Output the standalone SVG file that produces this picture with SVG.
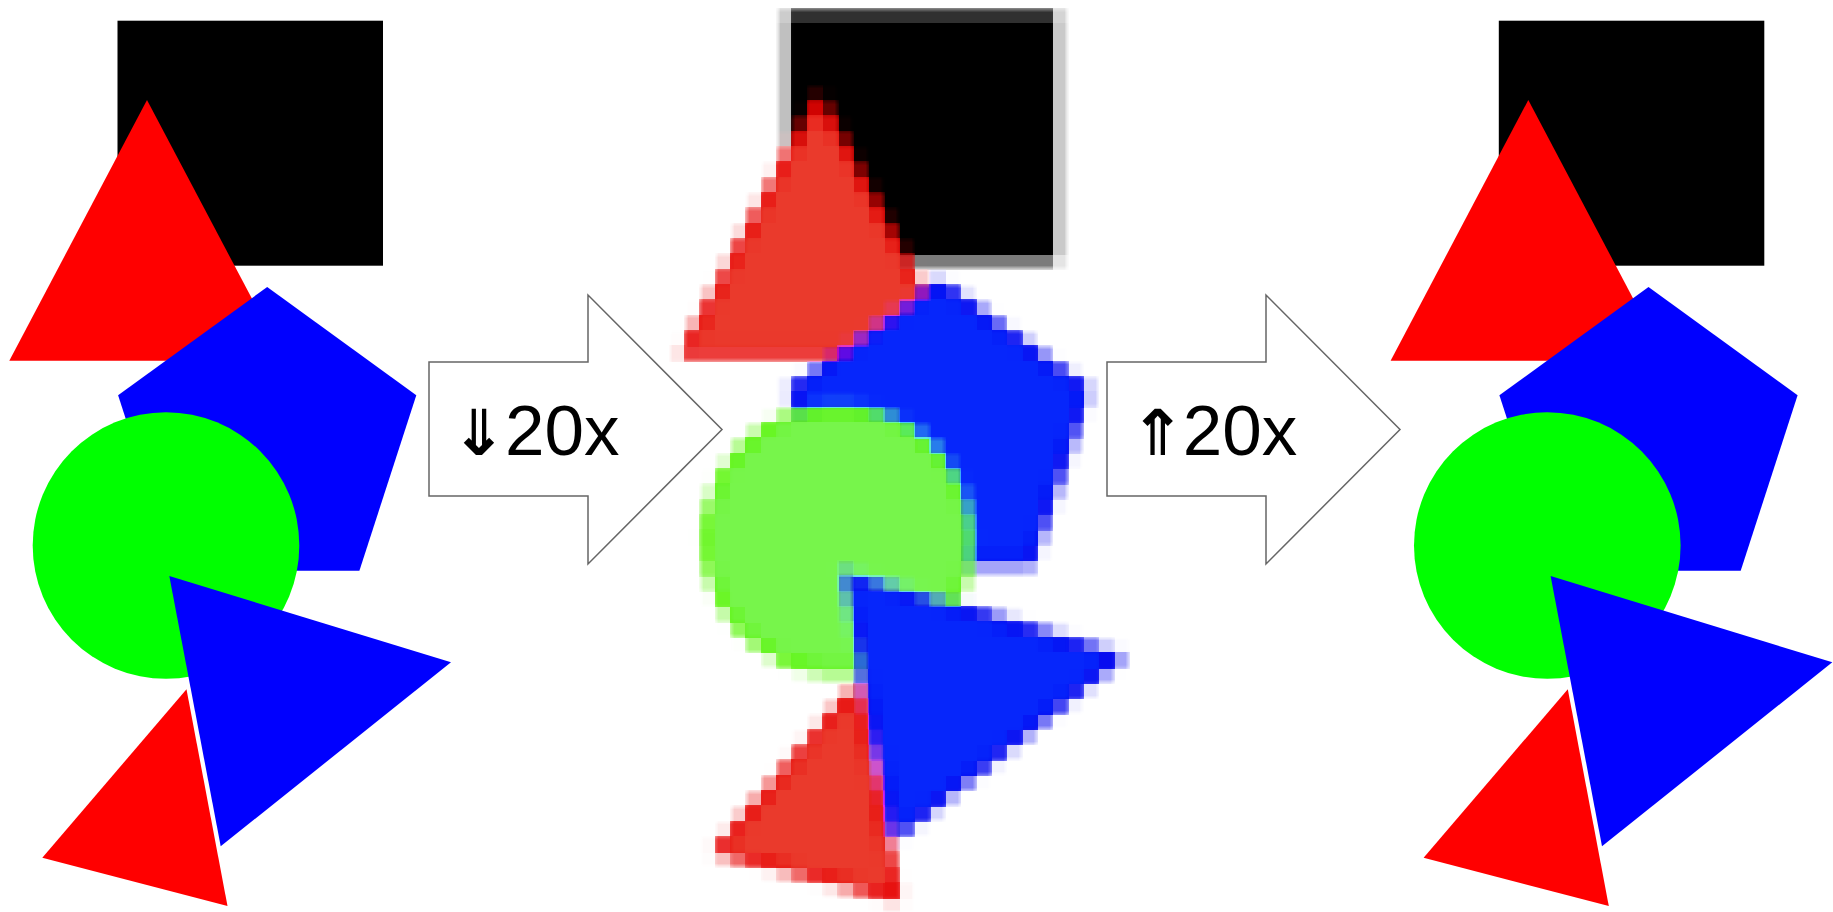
<svg xmlns="http://www.w3.org/2000/svg" width="1833" height="912" viewBox="0 0 1833 912">
<style>
.arrow{fill:#fff;stroke:#666;stroke-width:1.5}
.lbl{font-family:"Liberation Sans",Arial,sans-serif;font-size:71px;fill:#000}
.sym{font-family:"DejaVu Sans Mono","DejaVu Sans",monospace;font-size:86px;font-weight:bold}
</style>
<defs>
<rect id="sRect" x="117.5" y="20.7" width="265.5" height="245"/>
<polygon id="sRedTop" points="147,100 9.3,360.7 284.7,360.7"/>
<polygon id="sPent" points="267.2,287 416.3,395.3 359.4,570.7 175,570.7 118.1,395.3"/>
<circle id="sCircle" cx="166" cy="545.5" r="133.3"/>
<polygon id="sBlueTri" points="169.3,576 451,662.3 220.7,846.3"/>
<polygon id="sRedBot" points="186.5,689.3 42.3,857.7 227.5,906"/>
<clipPath id="cRedTop"><use href="#sRedTop"/></clipPath>
<clipPath id="cPent"><use href="#sPent"/></clipPath>
<clipPath id="cCircle"><use href="#sCircle"/></clipPath>
<clipPath id="cBlueTri"><use href="#sBlueTri"/></clipPath>
<clipPath id="cRedBot"><use href="#sRedBot"/></clipPath>
<filter id="pixelate" filterUnits="userSpaceOnUse" primitiveUnits="userSpaceOnUse" x="654" y="-22" width="506" height="966" color-interpolation-filters="sRGB">
<feGaussianBlur in="SourceGraphic" stdDeviation="4.5" result="soft"/>
<feFlood flood-color="#000" x="659.67" y="-16.33" width="4" height="4" result="f1"/>
<feFlood flood-color="#000" x="675" y="-16.33" width="4" height="4" result="f2"/>
<feFlood flood-color="#000" x="690.33" y="-16.33" width="4" height="4" result="f3"/>
<feFlood flood-color="#000" x="659.67" y="-1" width="4" height="4" result="f4"/>
<feFlood flood-color="#000" x="675" y="-1" width="4" height="4" result="f5"/>
<feFlood flood-color="#000" x="690.33" y="-1" width="4" height="4" result="f6"/>
<feFlood flood-color="#000" x="659.67" y="14.33" width="4" height="4" result="f7"/>
<feFlood flood-color="#000" x="675" y="14.33" width="4" height="4" result="f8"/>
<feFlood flood-color="#000" x="690.33" y="14.33" width="4" height="4" result="f9"/>
<feMerge x="654" y="-22" width="46" height="46" result="cell">
<feMergeNode in="f1"/><feMergeNode in="f2"/><feMergeNode in="f3"/>
<feMergeNode in="f4"/><feMergeNode in="f5"/><feMergeNode in="f6"/>
<feMergeNode in="f7"/><feMergeNode in="f8"/><feMergeNode in="f9"/>
</feMerge>
<feTile in="cell" x="654" y="-22" width="506" height="966" result="grid"/>
<feComposite in="soft" in2="grid" operator="in" result="sampled"/>
<feMorphology in="sampled" operator="dilate" radius="6"/>
</filter>
</defs>
<rect x="0" y="0" width="1833" height="912" fill="#fff"/>

<g id="original-image">
<use href="#sRect" fill="#000"/>
<use href="#sRedTop" fill="#f00"/>
<use href="#sPent" fill="#00f"/>
<use href="#sCircle" fill="#0f0"/>
<use href="#sBlueTri" fill="#00f"/>
<use href="#sRedBot" fill="#f00"/>
</g>

<g id="downscaled-image" filter="url(#pixelate)">
<g transform="translate(672,-6)">
<use href="#sRect" fill="#000"/>
<use href="#sRedTop" fill="#ea3a2c" stroke="#e60000" stroke-width="18" clip-path="url(#cRedTop)"/>
<use href="#sPent" fill="#0626fb" stroke="#0000ee" stroke-width="18" clip-path="url(#cPent)"/>
<use href="#sCircle" fill="#77f54b" stroke="#55f500" stroke-width="18" clip-path="url(#cCircle)"/>
<use href="#sBlueTri" fill="#0626fb" stroke="#0000ee" stroke-width="18" clip-path="url(#cBlueTri)"/>
<use href="#sRedBot" fill="#ea3a2c" stroke="#e60000" stroke-width="18" clip-path="url(#cRedBot)"/>
</g>
</g>

<g id="restored-image" transform="translate(1381.3,0)">
<use href="#sRect" fill="#000"/>
<use href="#sRedTop" fill="#f00"/>
<use href="#sPent" fill="#00f"/>
<use href="#sCircle" fill="#0f0"/>
<use href="#sBlueTri" fill="#00f"/>
<use href="#sRedBot" fill="#f00"/>
</g>

<g id="connectors">
<g id="arrow-downscale">
<polygon class="arrow" points="429,362 588,362 588,295 722,429.5 588,564 588,496 429,496"/>
<text class="lbl" y="455"><tspan class="sym" x="453">⇓</tspan><tspan x="505">20x</tspan></text>
</g>
<g id="arrow-upscale">
<polygon class="arrow" points="1107,362 1266,362 1266,295 1400,429.5 1266,564 1266,496 1107,496"/>
<text class="lbl" y="455"><tspan class="sym" x="1131.7">⇑</tspan><tspan x="1182.7">20x</tspan></text>
</g>
</g>
</svg>
